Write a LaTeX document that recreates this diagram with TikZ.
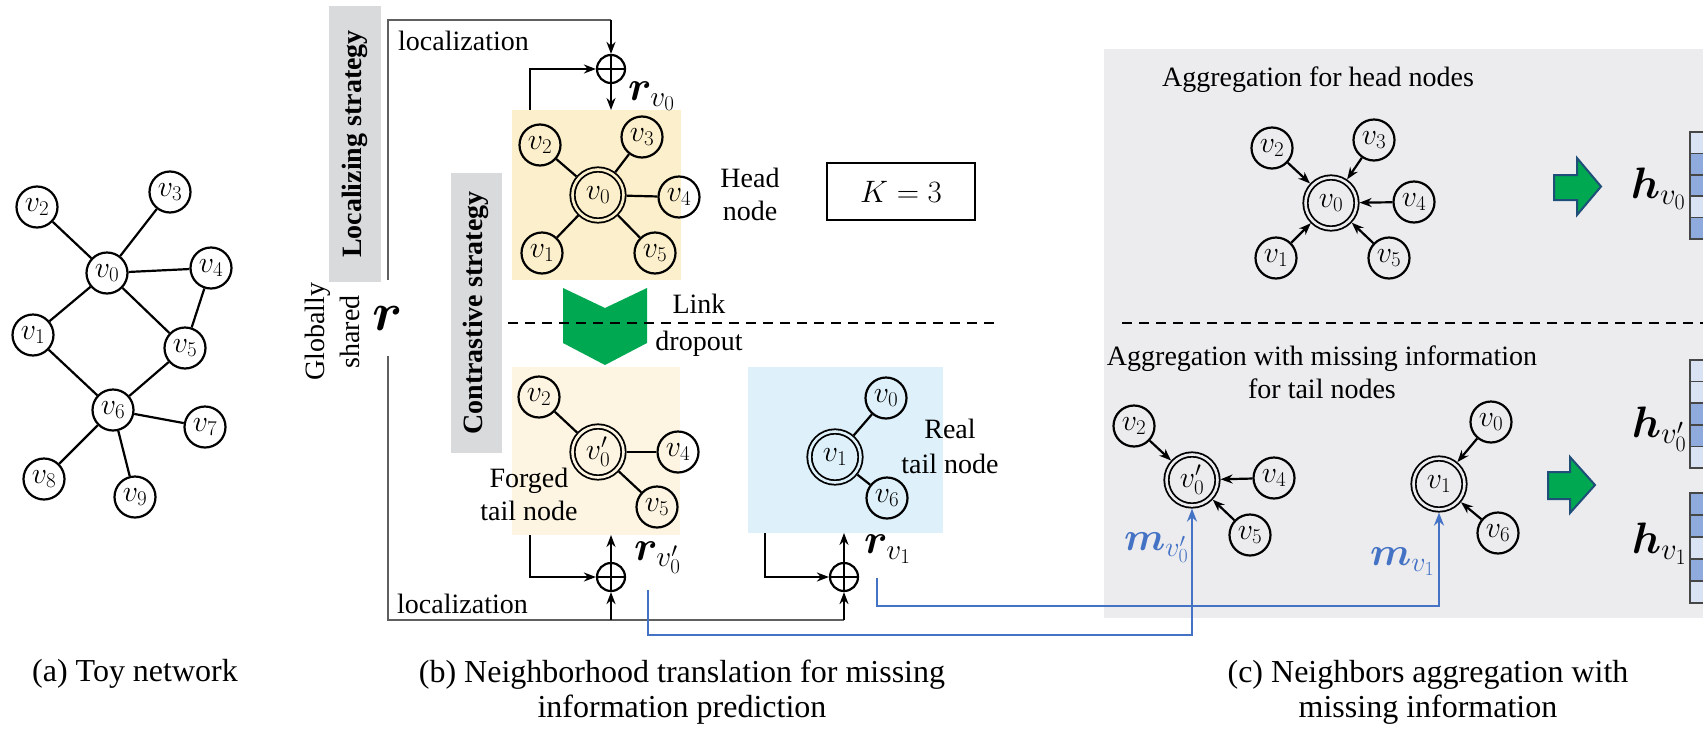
\RequirePackage{fix-cm}
\documentclass[tikz,border=0pt]{standalone}
\usepackage{bm}
\usepackage{fontspec}
\setmainfont{Liberation Serif}
\usetikzlibrary{arrows.meta}

\definecolor{headyellow}{RGB}{252,239,203}
\definecolor{forgedyellow}{RGB}{253,245,226}
\definecolor{tailblue}{RGB}{222,241,250}
\definecolor{stratgray}{RGB}{217,218,220}
\definecolor{panelgray}{RGB}{236,236,238}
\definecolor{dropgreen}{RGB}{0,168,82}
\definecolor{arrowedge}{RGB}{31,78,121}
\definecolor{msgblue}{RGB}{68,114,196}
\definecolor{celldark}{RGB}{143,170,220}
\definecolor{celllight}{RGB}{218,227,243}
\definecolor{cellgray}{RGB}{70,70,70}
\definecolor{locgray}{RGB}{95,95,95}

\tikzset{
  txt/.style={font=\fontsize{28}{33}\selectfont, inner sep=0pt},
  captxt/.style={font=\fontsize{32}{35}\selectfont, inner sep=0pt, align=center},
  vnode/.style={circle, draw, line width=2.2pt, minimum size=41pt, inner sep=0pt,
    font=\fontsize{30}{30}\selectfont},
  dnode/.style={circle, draw, line width=1.8pt, double=#1, double distance=2.6pt,
    minimum size=51pt, inner sep=0pt, outer sep=3.1pt, font=\fontsize{30}{30}\selectfont},
  link/.style={line width=2.2pt},
  inarrow/.style={line width=2.2pt, -{Stealth[length=12pt,width=9pt]}},
  locline/.style={draw=locgray, line width=2.2pt},
  flowarrow/.style={line width=2.2pt, -{Stealth[length=12pt,width=9pt]}},
  msgarrow/.style={draw=msgblue, line width=2.4pt, -{Stealth[length=13pt,width=10pt]}},
  oplus/.style={circle, draw, line width=2.2pt, minimum size=28pt, inner sep=0pt,
    path picture={\draw[line width=2pt]
      (path picture bounding box.north) -- (path picture bounding box.south)
      (path picture bounding box.west) -- (path picture bounding box.east);}},
  dashline/.style={line width=2.4pt, dash pattern=on 10pt off 7pt},
  areabox/.style={inner sep=0pt, outer sep=0pt},
  blockarrow/.style={fill=dropgreen, draw=arrowedge, line width=2pt, line join=miter},
  cell/.style={draw=cellgray, line width=1.5pt},
  bigmath/.style={inner sep=0pt, font=\fontsize{#1}{#1}\selectfont},
}

\begin{document}
\begin{tikzpicture}[x=1pt,y=-1pt]
\useasboundingbox (0,0) rectangle (1703,734);
\fill[white] (0,0) rectangle (1703,734);

% ---------------- (a) toy network ----------------
\node[vnode] (a2) at (37,207) {$v_2$};
\node[vnode] (a3) at (170,192) {$v_3$};
\node[vnode] (a0) at (107,273) {$v_0$};
\node[vnode] (a4) at (211,268) {$v_4$};
\node[vnode] (a1) at (33,335) {$v_1$};
\node[vnode] (a5) at (185,348) {$v_5$};
\node[vnode] (a6) at (113,410) {$v_6$};
\node[vnode] (a7) at (205,427) {$v_7$};
\node[vnode] (a8) at (44,479) {$v_8$};
\node[vnode] (a9) at (135,497) {$v_9$};
\draw[link] (a2) -- (a0);
\draw[link] (a3) -- (a0);
\draw[link] (a0) -- (a4);
\draw[link] (a0) -- (a1);
\draw[link] (a0) -- (a5);
\draw[link] (a4) -- (a5);
\draw[link] (a1) -- (a6);
\draw[link] (a5) -- (a6);
\draw[link] (a6) -- (a7);
\draw[link] (a6) -- (a8);
\draw[link] (a6) -- (a9);

% ---------------- (b) neighborhood translation ----------------
\fill[stratgray] (329,6) rectangle (381,282);
\node[txt, rotate=90, font=\fontsize{28}{33}\selectfont\bfseries] (loclab) at (355,144) {Localizing strategy};
\fill[stratgray] (451,173) rectangle (502,453);
\node[txt, rotate=90, font=\fontsize{28}{33}\selectfont\bfseries] (conlab) at (476,313) {Contrastive strategy};
\node[txt, rotate=90, align=center, font=\fontsize{28}{35}\selectfont] (glob) at (332,332) {Globally\\shared};

\node[areabox, fill=headyellow, minimum width=169pt, minimum height=170pt] (headbox) at (596.5,195) {};
\node[areabox, fill=forgedyellow, minimum width=168pt, minimum height=168pt] (forgedbox) at (596,451) {};
\node[areabox, fill=tailblue, minimum width=195pt, minimum height=166pt] (realbox) at (845.5,450) {};

% head node neighbourhood
\node[dnode=headyellow] (b0) at (598,195) {$v_0$};
\node[vnode] (b2) at (540,145) {$v_2$};
\node[vnode] (b3) at (642,137) {$v_3$};
\node[vnode] (b4) at (679,197) {$v_4$};
\node[vnode] (b1) at (542,253) {$v_1$};
\node[vnode] (b5) at (655,253) {$v_5$};
\foreach \n in {b1,b2,b3,b4,b5} \draw[link] (b0) -- (\n);

% forged tail node
\node[dnode=forgedyellow] (f0) at (598,452) {$v'_0$};
\node[vnode] (f2) at (539,397) {$v_2$};
\node[vnode] (f4) at (678,452) {$v_4$};
\node[vnode] (f5) at (657,507) {$v_5$};
\foreach \n in {f2,f4,f5} \draw[link] (f0) -- (\n);

% real tail node
\node[dnode=tailblue] (r1) at (835,457) {$v_1$};
\node[vnode] (r0) at (886,398) {$v_0$};
\node[vnode] (r6) at (887,498) {$v_6$};
\draw[link] (r1) -- (r0);
\draw[link] (r1) -- (r6);

\node[txt, align=center] (headlab) at (750,194) {Head\\node};
\node[txt, align=center] (forgedlab) at (529,494) {Forged\\tail node};
\node[txt, align=center, font=\fontsize{28}{35}\selectfont] (reallab) at (950,446) {Real\\tail node};
\node[draw, line width=2.4pt, minimum width=148pt, minimum height=57pt, inner sep=0pt,
      font=\fontsize{31}{31}\selectfont] (kbox) at (901,191.5) {$K=3$};

% link dropout
\fill[dropgreen] (563,288) -- (605,308) -- (647,288) -- (647,343) -- (605,365) -- (563,343) -- cycle;
\draw[dashline] (508,323) -- (999,323);
\node[txt, align=center, font=\fontsize{28}{37}\selectfont] (droplab) at (699,325) {Link\\dropout};

% globally shared vector and localization
\node[bigmath=54, minimum height=76pt] (rg) at (388,318) {$\bm{r}$};
\node[oplus] (op1) at (611,69) {};
\node[oplus] (op2) at (611,577) {};
\node[oplus] (op3) at (844,577) {};
\coordinate (ctop) at (611,20);
\coordinate (cb2) at (611,620);
\coordinate (cb3) at (844,620);
\draw[locline] (rg.north) |- (ctop);
\draw[flowarrow] (ctop) -- (op1.north);
\draw[locline] (rg.south) |- (cb3);
\draw[flowarrow] (cb2) -- (op2.south);
\draw[flowarrow] (cb3) -- (op3.south);
\node[txt, anchor=base west] (loctop) at (398,50) {localization};
\node[txt, anchor=base west] (locbot) at (397,613) {localization};

\coordinate (hbout) at (530,110);
\coordinate (fbout) at (530,535);
\coordinate (rbout) at (765,533);
\draw[flowarrow] (hbout) |- (op1.west);
\draw[flowarrow] (op1.south) -- (op1.south |- headbox.north);
\draw[flowarrow] (fbout) |- (op2.west);
\draw[flowarrow] (op2.north) -- (op2.north |- forgedbox.south);
\draw[flowarrow] (rbout) |- (op3.west);
\draw[flowarrow] (op3.north) -- (op3.north |- realbox.south);

\node[bigmath=42, anchor=base west] (rv0) at (628,100) {$\bm{r}_{v_0}$};
\node[bigmath=42, anchor=base west] (rv0p) at (634,560) {$\bm{r}_{v'_0}$};
\node[bigmath=42, anchor=base west] (rv1) at (864,553) {$\bm{r}_{v_1}$};

% ---------------- (c) aggregation ----------------
\fill[panelgray] (1104,49) rectangle (1703,618);
\node[txt, anchor=base] (aghead) at (1318,86) {Aggregation for head nodes};
\node[txt, align=center] (agtail) at (1322,372) {Aggregation with missing information\\for tail nodes};
\draw[dashline] (1122,323) -- (1703,323);

\node[dnode=panelgray] (c0) at (1331,203) {$v_0$};
\node[vnode] (c2) at (1272,148) {$v_2$};
\node[vnode] (c3) at (1374,140) {$v_3$};
\node[vnode] (c4) at (1414,202) {$v_4$};
\node[vnode] (c1) at (1276,258) {$v_1$};
\node[vnode] (c5) at (1389,258) {$v_5$};
\foreach \n in {c1,c2,c3,c4,c5} \draw[inarrow] (\n) -- (c0);

\node[dnode=panelgray] (g0) at (1192,480) {$v'_0$};
\node[vnode] (g2) at (1134,426) {$v_2$};
\node[vnode] (g4) at (1274,478) {$v_4$};
\node[vnode] (g5) at (1250,535) {$v_5$};
\foreach \n in {g2,g4,g5} \draw[inarrow] (\n) -- (g0);

\node[dnode=panelgray] (t1) at (1439,484) {$v_1$};
\node[vnode] (t0) at (1491,422) {$v_0$};
\node[vnode] (t6) at (1498,533) {$v_6$};
\draw[inarrow] (t0) -- (t1);
\draw[inarrow] (t6) -- (t1);

% missing information messages
\coordinate (bs1) at (648,590);
\coordinate (bs2) at (877,578);
\draw[msgarrow] (bs1) -- (bs1 |- 0,635) -| (g0.south);
\draw[msgarrow] (bs2) -- (bs2 |- 0,606) -| (t1.south);
\node[bigmath=40, anchor=base east, text=msgblue] (mv0p) at (1189,550) {$\bm{m}_{v'_0}$};
\node[bigmath=40, anchor=base east, text=msgblue] (mv1) at (1435,565) {$\bm{m}_{v_1}$};

% block arrows
\draw[blockarrow] (1554,175) -- (1577,175) -- (1577,158) -- (1601,186.5) -- (1577,215) -- (1577,200) -- (1554,200) -- cycle;
\draw[blockarrow] (1548,472) -- (1570,472) -- (1570,457) -- (1595,485) -- (1570,513) -- (1570,499) -- (1548,499) -- cycle;

% embedding vectors
\begin{scope}
\clip (0,0) rectangle (1703,734);
\foreach \c [count=\i from 0] in {celllight,celldark,celldark,celllight,celldark}
  \draw[cell, fill=\c] (1690,{132+21.4*\i}) rectangle (1730,{132+21.4*(\i+1)});
\foreach \c [count=\i from 0] in {celllight,celllight,celldark,celldark,celllight}
  \draw[cell, fill=\c] (1690,{360+21.6*\i}) rectangle (1730,{360+21.6*(\i+1)});
\foreach \c [count=\i from 0] in {celldark,celldark,celllight,celldark,celllight}
  \draw[cell, fill=\c] (1690,{493+22*\i}) rectangle (1730,{493+22*(\i+1)});
\end{scope}
\node[bigmath=44, anchor=base east] (hv0) at (1686,198) {$\bm{h}_{v_0}$};
\node[bigmath=44, anchor=base east] (hv0p) at (1687,437) {$\bm{h}_{v'_0}$};
\node[bigmath=44, anchor=base east] (hv1) at (1687,553) {$\bm{h}_{v_1}$};

% ---------------- captions ----------------
\node[captxt, anchor=base] (capa) at (135,681) {(a) Toy network};
\node[captxt] (capb) at (682,692) {(b) Neighborhood translation for missing\\information prediction};
\node[captxt] (capc) at (1428,692) {(c) Neighbors aggregation with\\missing information};
\end{tikzpicture}
\end{document}
